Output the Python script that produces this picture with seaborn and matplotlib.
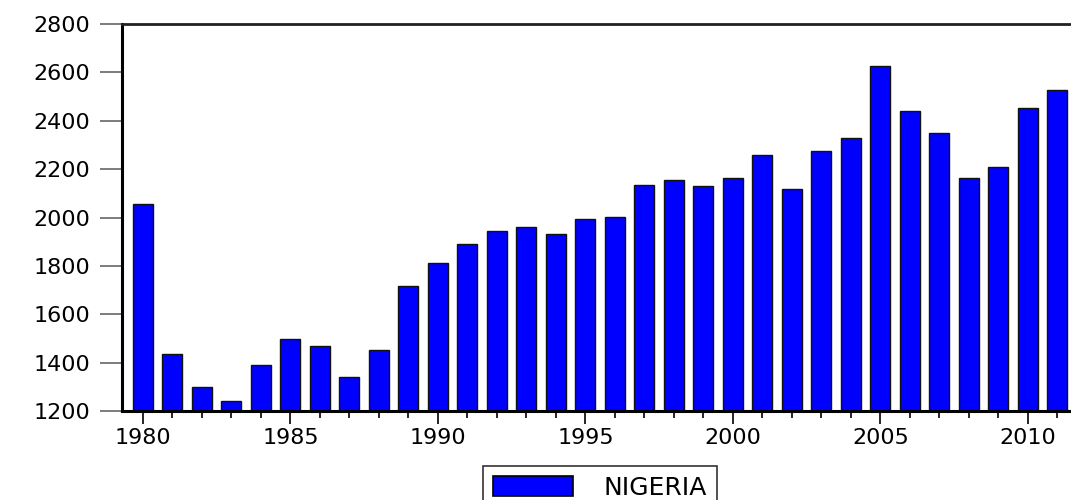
import matplotlib
matplotlib.use("Agg")
from matplotlib import pyplot as plt
from matplotlib.patches import Patch
import pandas as pd
import seaborn as sns

# * data
years = list(range(1980, 2012))
values = [2055, 1434, 1298, 1243, 1389, 1496, 1467, 1342, 1452, 1718,
          1810, 1892, 1944, 1959, 1930, 1992, 2001, 2133, 2154, 2129,
          2163, 2257, 2116, 2274, 2327, 2625, 2439, 2348, 2165, 2209,
          2454, 2526]
series_name = "NIGERIA"
y_ticks = [1200, 1400, 1600, 1800, 2000, 2200, 2400, 2600, 2800]

df = pd.DataFrame({"year": [str(y) for y in years], "value": values})

# * style
sns.set_style("white")
plt.rcParams["font.family"] = ["DejaVu Sans"]
plt.rcParams["text.color"] = "black"

fig = plt.figure(figsize=(10.71, 5.0), dpi=100)
ax = fig.add_axes([122 / 1071, 1 - 411 / 500, 1 - 122 / 1071, (411 - 24) / 500])

# bars
sns.barplot(data=df, x="year", y="value", color="#0000ff", saturation=1,
            width=0.68, edgecolor="#111111", linewidth=1.0, ax=ax)
for p in ax.patches:
    p.set_facecolor("#0000ff")

ax.set_ylim(1200, 2800)
ax.set_xlim(-0.71, 31.46)
ax.set_yticks(y_ticks)
ax.set_yticklabels([str(t) for t in y_ticks], fontsize=16)

# x ticks: labels every 5 years, small tick every year
major = [i for i, y in enumerate(years) if y % 5 == 0]
ax.set_xticks(major)
ax.set_xticklabels([str(years[i]) for i in major], fontsize=16)
ax.set_xticks(range(len(years)), minor=True)
ax.tick_params(axis="x", which="major", direction="out", length=9, width=1.2,
               color="black", labelcolor="black", pad=3, bottom=True)
ax.tick_params(axis="x", which="minor", direction="out", length=5, width=1.2,
               color="black", bottom=True)
ax.tick_params(axis="y", which="major", direction="out", length=16, width=1.2,
               color="#666666", labelcolor="black", pad=7, left=True)

ax.set_xlabel("")
ax.set_ylabel("")

# spines: left, top, bottom
for side in ["left", "bottom"]:
    ax.spines[side].set_color("black")
    ax.spines[side].set_linewidth(2.2)
ax.spines["top"].set_color("#222222")
ax.spines["top"].set_linewidth(2.0)
ax.spines["right"].set_visible(False)

# legend box at the bottom
handle = Patch(facecolor="#0000ff", edgecolor="black", linewidth=1.2, label=series_name)
leg = fig.legend(handles=[handle], loc="upper center",
                 bbox_to_anchor=(600 / 1071, 1 - 466 / 500),
                 fontsize=18, frameon=True, fancybox=False,
                 handlelength=3.2, handleheight=0.85, handletextpad=1.2,
                 borderpad=0.4, borderaxespad=0)
leg.get_frame().set_edgecolor("black")
leg.get_frame().set_linewidth(1.2)
for t in leg.get_texts():
    t.set_color("black")

fig.savefig("out.png", dpi=100)
